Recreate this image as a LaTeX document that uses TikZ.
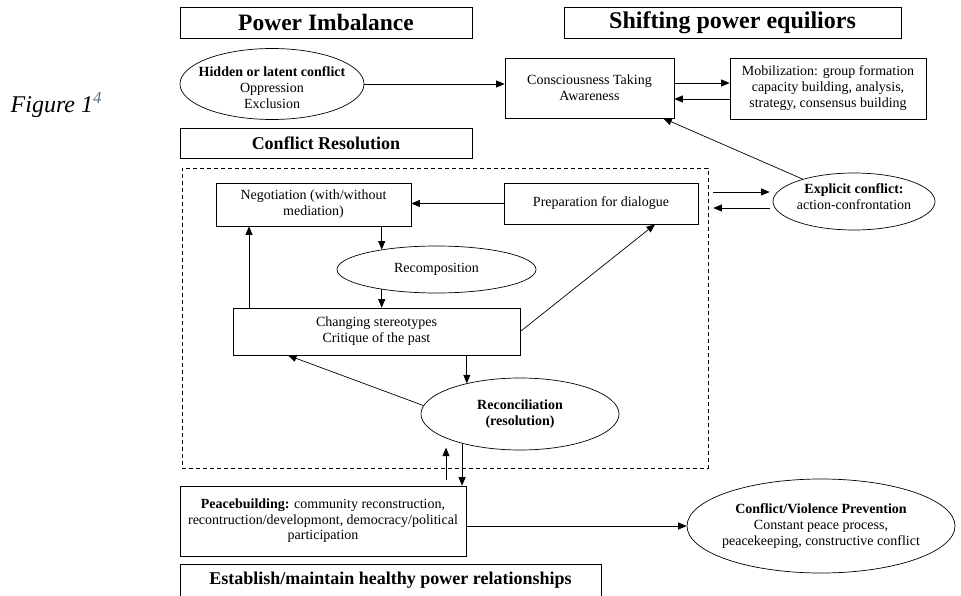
\documentclass[tikz,border=0pt]{standalone}
\usepackage{fontspec}
\setmainfont{Liberation Serif}
\usetikzlibrary{arrows.meta,shapes.geometric,calc}
\definecolor{supblue}{RGB}{85,105,145}

\begin{document}
\begin{tikzpicture}[x = 1pt, y = -1pt, line width = .7pt,
		>={Triangle[length=8.5pt, width=7pt]},
		txt/.style = {font = \fontsize{14}{16}\selectfont, align = center},
		box/.style = {draw, rectangle, txt, inner sep = 1pt},
		head/.style = {draw, rectangle, align = center, inner sep = 0pt},
		oval/.style = {draw, ellipse, inner sep = 0pt}]
		\useasboundingbox (0, 0) rectangle (961, 596);
		\node [anchor = base west, font = \fontsize{24}{28}\selectfont\itshape] (figlbl) at (7, 113) {Figure 1\textsuperscript{\color{supblue}4}};
		% headings
		\node [head, minimum width = 292pt, minimum height = 31pt, font = \fontsize{23.5}{27}\selectfont\bfseries] (pimb) at (326, 22.5) {Power Imbalance};
		\node [head, minimum width = 337pt, minimum height = 31pt, font = \fontsize{24}{28}\selectfont\bfseries] (shift) at (732.5, 22.5) {Shifting power equiliors};
		\node [head, minimum width = 292pt, minimum height = 30pt, font = \fontsize{18}{22}\selectfont\bfseries] (cres) at (326, 143) {Conflict Resolution};
		\node [head, minimum width = 421pt, minimum height = 32pt, font = \fontsize{18}{22}\selectfont\bfseries] (estab) at (390.5, 580) {Establish/maintain healthy power relationships};
		% top row
		\node [oval, minimum width = 184pt, minimum height = 71pt, label = {[txt, yshift = -4pt]center:{\textbf{Hidden or latent conflict}\\Oppression\\Exclusion}}] (hidden) at (272, 84) {};
		\node [box, minimum width = 169pt, minimum height = 60pt] (cons) at (589.5, 88) {Consciousness Taking\\Awareness};
		\node [box, minimum width = 196pt, minimum height = 61pt] (mob) at (828, 88.5) {Mobilization: group formation\\capacity building, analysis,\\strategy, consensus building};
		\node [oval, minimum width = 162pt, minimum height = 57pt, label = {[txt, yshift = 5pt]center:{\textbf{Explicit conflict:}\\action-confrontation}}] (expl) at (854, 201.5) {};
		% conflict resolution frame
		\node [draw, dash pattern = on 4pt off 3pt, minimum width = 526pt, minimum height = 300pt, inner sep = 0pt] (crbox) at (445, 318) {};
		\node [box, minimum width = 195pt, minimum height = 43pt] (nego) at (313.5, 204.5) {Negotiation (with/without\\mediation)};
		\node [box, minimum width = 194pt, minimum height = 41pt] (prep) at (601, 203.5) {Preparation for dialogue};
		\node [oval, minimum width = 199pt, minimum height = 47pt, label = {[txt]center:Recomposition}] (recomp) at (436.5, 269.5) {};
		\node [box, minimum width = 287pt, minimum height = 47pt] (chg) at (376.5, 331.5) {Changing stereotypes\\Critique of the past};
		\node [oval, minimum width = 198pt, minimum height = 72pt, label = {[txt, font = \fontsize{14}{16}\selectfont\bfseries]center:{Reconciliation\\(resolution)}}] (recon) at (520, 414) {};
		% bottom row
		\node [box, minimum width = 286pt, minimum height = 70pt, font = \fontsize{14}{15.5}\selectfont, inner sep = 0pt] (peace) at (323, 521) {\textbf{Peacebuilding:} community reconstruction,\\recontruction/developmont, democracy/political\\participation};
		\node [oval, minimum width = 268pt, minimum height = 94pt, label = {[txt]center:{\textbf{Conflict/Violence Prevention}\\Constant peace process,\\peacekeeping, constructive conflict}}] (prev) at (821, 526) {};
		% connectors
		\draw [->] (hidden.east) -- (hidden.east -| cons.west);
		\draw [->] ([yshift = 5pt]cons.east) -- ([yshift = 5pt]cons.east -| mob.west);
		\draw [->] ([yshift = -10.5pt]mob.west) -- ([yshift = -10.5pt]mob.west -| cons.east);
		\draw [->] (expl) -- ([xshift = -11pt]cons.south east);
		\draw [->] ($(crbox.east |- expl.west) + (5, -9.5)$) -- ($(expl.west) + (-3, -9.5)$);
		\draw [->] ($(expl.west) + (-3, 6.5)$) -- ($(crbox.east |- expl.west) + (5, 6.5)$);
		\draw [->] (prep.west) -- (prep.west -| nego.east);
		\draw [->] (nego.south -| recomp.160) -- (recomp.160);
		\draw [->] (recomp.200) -- (recomp.200 |- chg.north);
		\draw [->] ([xshift = -127.5pt]chg.north) -- ([xshift = -127.5pt]chg.north |- nego.south);
		\draw [->] (chg.east) -- ([xshift = 54pt]prep.south);
		\draw [->] (chg.south -| recon.150) -- (recon.150);
		\draw [->] (recon.175) -- ([xshift = -88.5pt]chg.south);
		\draw [->] (recon.207) -- (recon.207 |- peace.north);
		\draw [->] ([xshift = 123pt, yshift = 6pt]peace.north) -- ([xshift = 123pt, yshift = 38pt]peace.north);
		\draw [->] (prev.west -| peace.east) -- (prev.west);
	\end{tikzpicture}
\end{document}
